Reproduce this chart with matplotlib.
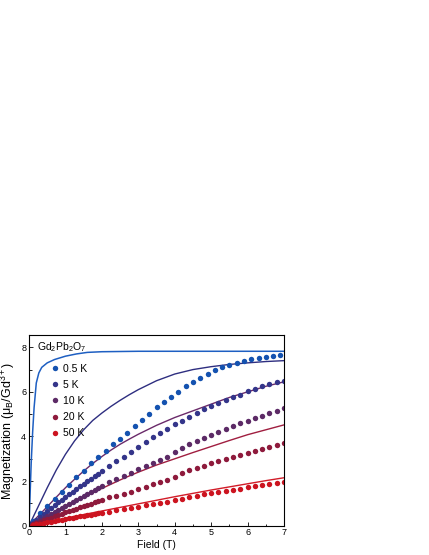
import matplotlib
matplotlib.use('Agg')
import matplotlib.pyplot as plt
import numpy as np

plt.rcParams['font.family'] = ['Liberation Sans', 'DejaVu Sans']
plt.rcParams['mathtext.default'] = 'regular'

# measured data (field in T, magnetization in muB/Gd3+)
field_05 = [0.1, 0.3, 0.5, 0.7, 0.9, 1.1, 1.3, 1.5, 1.7, 1.9, 2.1, 2.3, 2.5, 2.7, 2.9, 3.1, 3.3, 3.5,
            3.7, 3.9, 4.1, 4.3, 4.5, 4.7, 4.9, 5.1, 5.3, 5.5, 5.7, 5.9, 6.1, 6.3, 6.5, 6.7, 6.9]
mag_05 = [0.2, 0.56, 0.88, 1.2, 1.52, 1.83, 2.17, 2.45, 2.8, 3.09, 3.35, 3.65, 3.9, 4.17, 4.47, 4.74, 5.01, 5.3,
          5.56, 5.76, 6.01, 6.25, 6.44, 6.64, 6.79, 6.97, 7.1, 7.22, 7.31, 7.4, 7.48, 7.53, 7.58, 7.62, 7.65]

field_lo = [0.1, 0.2, 0.3, 0.4, 0.5, 0.6, 0.7, 0.8, 0.9, 1.0, 1.1, 1.2, 1.3, 1.4, 1.5, 1.6, 1.7, 1.8, 1.9, 2.0,
            2.2, 2.4, 2.6, 2.8, 3.0, 3.2, 3.4, 3.6, 3.8, 4.0, 4.2, 4.4, 4.6, 4.8, 5.0, 5.2, 5.4, 5.6, 5.8,
            6.0, 6.2, 6.4, 6.6, 6.8, 7.0]
mag_5 = [0.13, 0.26, 0.39, 0.52, 0.65, 0.78, 0.91, 1.04, 1.17, 1.29, 1.41, 1.53, 1.65, 1.77, 1.89, 2.0, 2.11,
         2.22, 2.33, 2.44, 2.67, 2.88, 3.09, 3.32, 3.53, 3.74, 3.96, 4.14, 4.34, 4.54, 4.71, 4.89, 5.07, 5.22,
         5.37, 5.49, 5.64, 5.76, 5.87, 6.03, 6.14, 6.25, 6.35, 6.43, 6.5]
mag_10 = [0.09, 0.18, 0.27, 0.36, 0.45, 0.54, 0.63, 0.72, 0.81, 0.9, 0.99, 1.08, 1.17, 1.26, 1.35, 1.44, 1.53,
          1.61, 1.69, 1.77, 1.96, 2.09, 2.24, 2.38, 2.54, 2.68, 2.8, 2.95, 3.1, 3.3, 3.5, 3.66, 3.8, 3.95,
          4.07, 4.22, 4.35, 4.47, 4.59, 4.71, 4.82, 4.94, 5.05, 5.16, 5.26]
mag_20 = [0.06, 0.12, 0.18, 0.24, 0.3, 0.36, 0.42, 0.48, 0.54, 0.6, 0.66, 0.71, 0.77, 0.82, 0.88, 0.93, 0.99,
          1.04, 1.09, 1.15, 1.27, 1.33, 1.41, 1.51, 1.63, 1.75, 1.86, 1.95, 2.05, 2.2, 2.35, 2.48, 2.57, 2.68,
          2.8, 2.9, 3.0, 3.09, 3.17, 3.27, 3.37, 3.46, 3.54, 3.62, 3.69]
mag_50 = [0.03, 0.06, 0.09, 0.12, 0.15, 0.18, 0.21, 0.24, 0.27, 0.3, 0.33, 0.36, 0.39, 0.42, 0.45, 0.47, 0.5,
          0.53, 0.56, 0.58, 0.63, 0.7, 0.75, 0.81, 0.85, 0.91, 0.96, 1.0, 1.05, 1.13, 1.21, 1.27, 1.35, 1.41,
          1.45, 1.51, 1.56, 1.6, 1.66, 1.72, 1.77, 1.82, 1.87, 1.92, 1.97]

# calculated curves
fit_x_05 = [0, 0.03, 0.06, 0.1, 0.14, 0.2, 0.27, 0.35, 0.5, 0.7, 1.0, 1.3, 1.6, 2.0, 3.0, 7.0]
fit_y_05 = [0, 1.4, 2.8, 4.2, 5.3, 6.4, 6.85, 7.1, 7.3, 7.45, 7.6, 7.7, 7.77, 7.8, 7.82, 7.82]
fit_x = [0, 0.25, 0.5, 0.75, 1.0, 1.25, 1.5, 1.75, 2.0, 2.25, 2.5, 2.75, 3.0, 3.5, 4.0, 4.5, 5.0, 5.5, 6.0, 6.5, 7.0]
fit_y_5 = [0, 0.85, 1.7, 2.5, 3.2, 3.8, 4.3, 4.72, 5.05, 5.35, 5.62, 5.87, 6.1, 6.5, 6.8, 7.0, 7.13, 7.23,
           7.3, 7.36, 7.4]
fit_y_10 = [0, 0.43, 0.85, 1.28, 1.7, 2.08, 2.45, 2.79, 3.1, 3.39, 3.65, 3.88, 4.1, 4.5, 4.85, 5.15, 5.45,
            5.75, 6.0, 6.25, 6.45]
fit_y_20 = [0, 0.21, 0.43, 0.64, 0.85, 1.06, 1.27, 1.47, 1.67, 1.86, 2.05, 2.23, 2.4, 2.72, 3.0, 3.28, 3.55,
            3.82, 4.08, 4.3, 4.52]
fit_y_50 = [0, 0.08, 0.17, 0.25, 0.33, 0.42, 0.5, 0.58, 0.66, 0.74, 0.82, 0.9, 0.98, 1.14, 1.3, 1.45, 1.6,
            1.74, 1.88, 2.02, 2.15]

labels = ['0.5 K', '5 K', '10 K', '20 K', '50 K']
dot_colors = ['#1452b0', '#34358a', '#5c2a66', '#8e1a3c', '#cc1420']
line_colors = ['#1e5fc2', '#2e2e80', '#6a2a6a', '#a01e40', '#d21c28']

fig = plt.figure(figsize=(4.29, 5.55), dpi=100)
ax = fig.add_axes([0.0676, 0.0528, 0.5945, 0.3436])

ax.plot(fit_x_05, fit_y_05, color=line_colors[0], lw=1.1)
for fy, c in zip([fit_y_5, fit_y_10, fit_y_20, fit_y_50], line_colors[1:]):
    ax.plot(fit_x, fy, color=c, lw=1.0)

ax.plot(field_05, mag_05, 'o', ms=3.9, mec='none', color=dot_colors[0], label=labels[0])
for my, c, lab in zip([mag_5, mag_10, mag_20, mag_50], dot_colors[1:], labels[1:]):
    ax.plot(field_lo, my, 'o', ms=3.9, mec='none', color=c, label=lab)

ax.set_xlim(0, 7)
ax.set_ylim(0, 8.55)
ax.set_xticks(range(0, 8))
ax.set_xticks(np.arange(0.5, 7, 1.0), minor=True)
ax.set_yticks([0, 2, 4, 6, 8])
ax.set_yticks([1, 3, 5, 7], minor=True)
ax.tick_params(which='both', direction='in', labelsize=6.5, top=False, right=False, pad=2)
ax.tick_params(which='major', length=3, width=0.6)
ax.tick_params(which='minor', length=1.8, width=0.6)
for s in ax.spines.values():
    s.set_linewidth(0.8)

ax.set_xlabel('Field (T)', fontsize=7.5, labelpad=2)
ax.set_ylabel('Magnetization ($\\mu_B$/Gd$^{3+}$)', fontsize=9, labelpad=3)
ax.text(0.032, 0.975, 'Gd$_2$Pb$_2$O$_7$', transform=ax.transAxes, fontsize=7.5, va='top', ha='left')

ax.legend(loc='upper left', bbox_to_anchor=(0.058, 0.875), frameon=False, fontsize=7.5,
          handletextpad=0.15, labelspacing=0.58, borderpad=0, handlelength=1.2, markerscale=1.0)

fig.savefig('out.png', dpi=100)
